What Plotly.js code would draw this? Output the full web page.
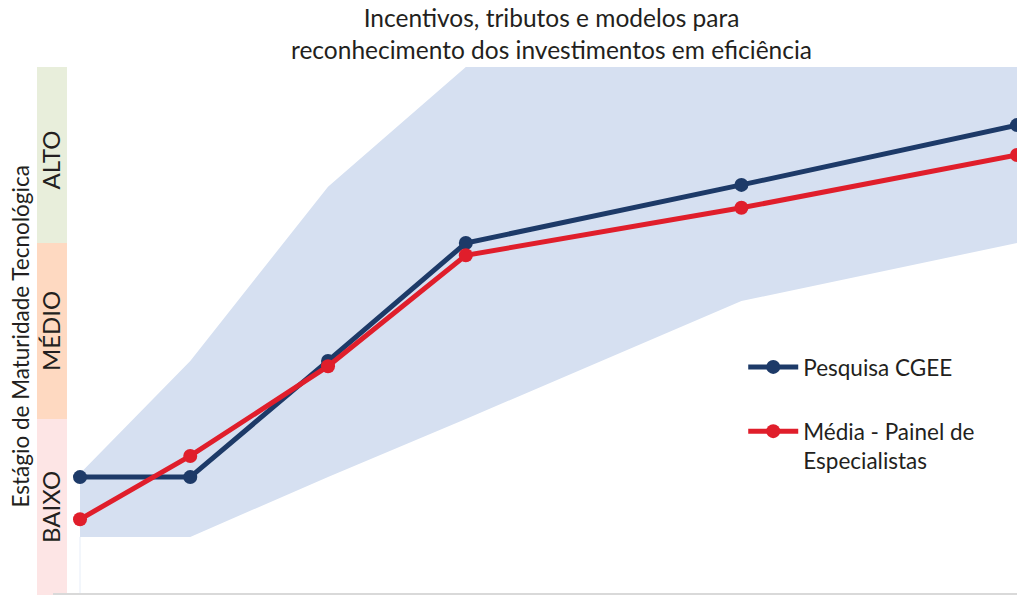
<!DOCTYPE html>
<html>
<head>
<meta charset="utf-8">
<script src="https://cdn.plot.ly/plotly-3.0.1.min.js"></script>
<style>html,body{margin:0;padding:0;background:#fff;}#chart{width:1017px;height:595px;}</style>
</head>
<body>
<div id="chart"></div>
<script>
// Horizon positions (relative time steps)
const stages = [0, 2, 4.5, 7, 12, 17];
// Pesquisa CGEE
const cgee = [0.67, 0.67, 1.33, 2.0, 2.33, 2.67];
// Média - Painel de Especialistas
const painel = [0.43, 0.79, 1.30, 1.93, 2.20, 2.50];
// Range of the expert panel (min / max)
const faixaMin = [0.33, 0.33, 0.67, 1.0, 1.67, 2.0];
const faixaMax = [0.69, 1.33, 2.32, 3.0, 3.0, 3.0];
// Maturity levels
const niveis = ['BAIXO', 'MÉDIO', 'ALTO'];
const nivelCores = ['#fde5e5', '#fed9c1', '#e8eedb'];
const titulo = 'Incentivos, tributos e modelos para<br>reconhecimento dos investimentos em eficiência';

const font = 'Lato, "Open Sans", sans-serif';
const txt = '#231f20';

const traces = [
  {x: stages, y: faixaMin, mode: 'lines', line: {width: 0, color: 'rgba(0,0,0,0)'}, showlegend: false, hoverinfo: 'skip'},
  {x: stages, y: faixaMax, mode: 'lines', line: {width: 0, color: 'rgba(0,0,0,0)'}, fill: 'tonexty', fillcolor: '#d6e0f1', showlegend: false, hoverinfo: 'skip'},
  {x: stages, y: cgee, name: 'Pesquisa CGEE', mode: 'lines+markers', line: {color: '#1d3a68', width: 5}, marker: {color: '#1d3a68', size: 14}, legendgroup: 'a', cliponaxis: false},
  {x: stages, y: painel, name: 'Média - Painel de<br>Especialistas', mode: 'lines+markers', line: {color: '#e01e2b', width: 5}, marker: {color: '#e01e2b', size: 14}, legendgroup: 'b', cliponaxis: false}
];

const shapes = [];
const annotations = [];
niveis.forEach((n, i) => {
  shapes.push({type: 'rect', xref: 'paper', yref: 'y', x0: -0.0166, x1: 0.0145, y0: i, y1: i + 1, fillcolor: nivelCores[i], line: {width: 0}, layer: 'below'});
  annotations.push({xref: 'paper', yref: 'y', x: -0.003, y: i + 0.5 - (i === 2 ? 0.03 : 0), text: n, showarrow: false, textangle: -90, font: {family: font, size: 24, color: txt}, xanchor: 'center', yanchor: 'middle'});
});
shapes.push({type: 'line', xref: 'x', yref: 'y', x0: stages[0], x1: stages[0], y0: 0, y1: faixaMin[0], line: {color: '#e6edf8', width: 1}, layer: 'below'});
shapes.push({type: 'line', xref: 'paper', yref: 'paper', x0: 0, x1: 1, y0: 0.002, y1: 0.002, line: {color: '#d9d9d9', width: 2}});
annotations.push({xref: 'paper', yref: 'paper', x: -0.034, y: 0.49, text: 'Estágio de Maturidade Tecnológica', showarrow: false, textangle: -90, font: {family: font, size: 22.5, color: txt}, xanchor: 'center', yanchor: 'middle'});
annotations.push({xref: 'paper', yref: 'paper', x: 0.5166, y: 1.0635, text: titulo, showarrow: false, font: {family: font, size: 24.5, color: txt}, xanchor: 'center', yanchor: 'middle', align: 'center'});

const layout = {
  width: 1017, height: 595,
  margin: {l: 53, r: 0, t: 67, b: 0},
  paper_bgcolor: '#fff', plot_bgcolor: 'rgba(0,0,0,0)',
  xaxis: {range: [-0.49, 17], showgrid: false, zeroline: false, showline: false, showticklabels: false, ticks: ''},
  yaxis: {range: [0, 3], showgrid: false, zeroline: false, showline: false, showticklabels: false, ticks: ''},
  showlegend: true,
  legend: {x: 0.716, y: 0.472, xanchor: 'left', yanchor: 'top', bgcolor: 'rgba(0,0,0,0)', font: {family: font, size: 22.5, color: txt}, itemwidth: 50, tracegroupgap: 32, valign: 'top'},
  shapes: shapes,
  annotations: annotations
};

Plotly.newPlot('chart', traces, layout, {displayModeBar: false, staticPlot: true});
</script>
</body>
</html>
